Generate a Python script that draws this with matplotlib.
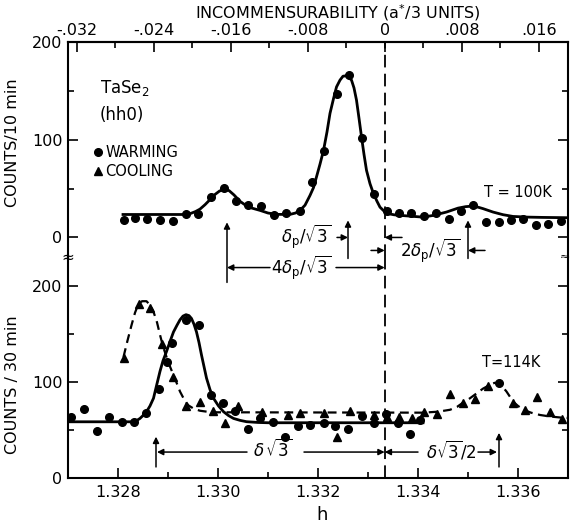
import numpy as np
import matplotlib
matplotlib.use("Agg")
import matplotlib.pyplot as plt
from matplotlib.lines import Line2D
from matplotlib.ticker import MultipleLocator, FixedLocator, FixedFormatter

plt.rcParams['font.family'] = ['DejaVu Sans']
plt.rcParams['mathtext.fontset'] = 'dejavusans'

H0 = 4.0 / 3.0  # commensurate position

# ---------------- top panel: T = 100 K (counts / 10 min) ----------------
top_h = [1.32811, 1.32834, 1.32857, 1.32884, 1.32909, 1.32936, 1.32960, 1.32985,
         1.33012, 1.33035, 1.33060, 1.33085, 1.33111, 1.33136, 1.33163, 1.33187,
         1.33211, 1.33237, 1.33261, 1.33287, 1.33312, 1.33337, 1.33361, 1.33386,
         1.33411, 1.33435, 1.33461, 1.33485, 1.33509, 1.33535, 1.33561, 1.33585,
         1.33609, 1.33635, 1.33659, 1.33685]
top_counts = [17.4, 19.8, 18.5, 17.4, 16.4, 23.6, 23.9, 41.4,
              50.6, 36.9, 33.5, 32.5, 23.3, 25.0, 27.0, 56.7,
              88.5, 147.0, 166.0, 102.0, 44.0, 27.0, 25.0, 25.0,
              21.5, 25.0, 18.5, 27.0, 32.8, 15.7, 15.7, 17.4,
              19.1, 13.0, 14.0, 17.1]

top_fit_h = [1.3281, 1.3293, 1.32945, 1.32955, 1.32964, 1.32974, 1.32984, 1.32994,
             1.33003, 1.33012, 1.33022, 1.33032, 1.33044, 1.33055, 1.33068, 1.33084,
             1.3310, 1.33117, 1.33144, 1.33155, 1.33164, 1.33174, 1.33184, 1.33191,
             1.33197, 1.33204, 1.33211, 1.33218, 1.33224, 1.33231, 1.33237, 1.33244,
             1.3325, 1.33258, 1.33267, 1.33272, 1.33277, 1.33282, 1.33287, 1.33292,
             1.33297, 1.33304, 1.33311, 1.33318, 1.33324, 1.33332, 1.33341, 1.33352,
             1.33364, 1.3341, 1.3343, 1.33457, 1.3348, 1.33495, 1.33507, 1.3352,
             1.3353, 1.3355, 1.3357, 1.3359, 1.3362, 1.3365, 1.3370]
top_fit = [23.5, 23.5, 24.5, 26.5, 29.0, 33.5, 38.7, 44.0,
           47.5, 49.0, 48.0, 43.5, 37.0, 33.0, 30.0, 27.7,
           25.0, 23.6, 23.6, 25.0, 27.7, 33.0, 43.0, 51.0,
           62.0, 75.0, 89.0, 108.0, 127.0, 142.0, 154.0, 161.0,
           165.0, 165.5, 161.0, 153.0, 140.5, 122.0, 103.0, 85.0,
           68.7, 55.0, 44.8, 37.0, 31.0, 27.0, 24.3, 23.2,
           22.6, 20.8, 22.5, 26.0, 30.0, 31.5, 32.0, 31.0,
           29.5, 26.0, 23.3, 21.5, 20.8, 20.5, 20.2]

# ---------------- bottom panel: T = 114 K (counts / 30 min) ----------------
warm_h = [1.32706, 1.32731, 1.32757, 1.32782, 1.32807, 1.32832, 1.32856, 1.32881,
          1.32897, 1.32908, 1.32936, 1.32961, 1.32985, 1.33009, 1.33033, 1.33059,
          1.33084, 1.33109, 1.33134, 1.33159, 1.33183, 1.33211, 1.33234, 1.33260,
          1.33287, 1.33312, 1.33336, 1.33359, 1.33384, 1.33404, 1.33562]
warm_counts = [64, 72, 49, 63, 58, 58, 68, 93,
               121, 140, 164, 159, 86, 78, 70, 51,
               62, 58, 43, 54, 55, 57, 54, 51,
               65, 57, 67, 57, 46, 60, 99]

cool_h = [1.32811, 1.32841, 1.32864, 1.32887, 1.32909, 1.32936, 1.32963, 1.32989,
          1.33014, 1.33039, 1.33087, 1.33139, 1.33164, 1.33212, 1.33237, 1.33264,
          1.33312, 1.33337, 1.33361, 1.33387, 1.33412, 1.33437, 1.33464, 1.33490,
          1.33514, 1.33540, 1.33590, 1.33614, 1.33637, 1.33663, 1.33687]
cool_counts = [125, 181, 177, 139, 105, 75, 79, 70,
               57, 75, 69, 66, 68, 68, 43, 70,
               66, 64, 64, 62, 69, 67, 87, 78,
               82, 96, 78, 71, 84, 69, 61]

warm_fit_h = [1.3270, 1.3283, 1.32838, 1.32844, 1.3285, 1.32857, 1.32864, 1.32871,
              1.32877, 1.32884, 1.3289, 1.32897, 1.32904, 1.32911, 1.32918, 1.32924,
              1.3293, 1.32936, 1.32942, 1.32947, 1.32952, 1.32957, 1.32962, 1.32967,
              1.32972, 1.32977, 1.32984, 1.32991, 1.33001, 1.33011, 1.33021, 1.33031,
              1.33044, 1.33057, 1.3308, 1.3310, 1.3341]
warm_fit = [58.5, 58.5, 60, 62, 65, 69, 75, 83,
            96, 111, 122, 131.6, 142, 152, 159, 164.6,
            168.5, 170, 169, 166, 160, 152, 141, 128,
            116, 104, 92, 83, 75, 69, 65, 62,
            60, 58.6, 57.8, 57.5, 57.5]

cool_fit_h = [1.32811, 1.32819, 1.32827, 1.32834, 1.3284, 1.32848, 1.32857, 1.32864,
              1.32871, 1.32878, 1.32884, 1.3289, 1.32897, 1.32904, 1.32911, 1.32918,
              1.32924, 1.32932, 1.32941, 1.32952, 1.32964, 1.32978, 1.32991, 1.3341,
              1.3344, 1.33464, 1.33478, 1.3349, 1.33504, 1.33517, 1.3353, 1.33544,
              1.33553, 1.33561, 1.33569, 1.33577, 1.33584, 1.3359, 1.336, 1.33611,
              1.33626, 1.33644, 1.33664, 1.33684, 1.3370]
cool_fit = [126, 143, 159, 172, 180, 184, 184, 180,
            173, 162, 149, 137, 126, 116, 107, 98,
            90, 82, 75.5, 72, 70, 69, 68.4, 68,
            69, 71, 74, 78.4, 83, 88, 93, 97,
            99, 99, 95, 90, 84.5, 79.5, 75, 71,
            68, 65.6, 64, 63, 62.5]

top_tick_vals = [-0.032, -0.024, -0.016, -0.008, 0.0, 0.008, 0.016]
top_tick_labels = ['-.032', '-.024', '-.016', '-.008', '0', '.008', '.016']
bot_tick_vals = [1.328, 1.330, 1.332, 1.334, 1.336]
bot_tick_labels = ['1.328', '1.330', '1.332', '1.334', '1.336']

# ---------------- figure ----------------
W, Hh = 570, 527
fig = plt.figure(figsize=(W / 100, Hh / 100), dpi=100)

def rect(l, t, r, b):
    return [l / W, 1 - b / Hh, (r - l) / W, (b - t) / Hh]

ax2 = fig.add_axes(rect(68, 257, 568, 478))
ax1 = fig.add_axes(rect(68, 42, 568, 257), sharex=ax2)
ax1.set_zorder(3)
ax1.patch.set_visible(False)
ax2.patch.set_visible(False)

XMIN, XMAX = 1.327, 1.337
ax1.set_xlim(XMIN, XMAX)
ax1.set_ylim(-20, 200)
ax2.set_ylim(0, 230)

LW_SP = 1.5
for ax in (ax1, ax2):
    for s in ax.spines.values():
        s.set_linewidth(LW_SP)
ax1.spines['bottom'].set_visible(False)
ax2.spines['top'].set_visible(False)

tick_kw = dict(direction='in', width=1.2, labelsize=11.5, colors='k')
# top panel y ticks
ax1.yaxis.set_major_locator(FixedLocator([0, 100, 200]))
ax1.yaxis.set_minor_locator(FixedLocator([50, 150]))
ax1.tick_params(axis='y', which='both', left=True, right=True, **tick_kw)
ax1.tick_params(axis='y', which='major', length=7, pad=4)
ax1.tick_params(axis='y', which='minor', length=4)
ax1.tick_params(axis='x', which='both', bottom=False, top=False, labelbottom=False)

# bottom panel
ax2.yaxis.set_major_locator(FixedLocator([0, 100, 200]))
ax2.yaxis.set_minor_locator(FixedLocator([50, 150]))
ax2.tick_params(axis='y', which='both', left=True, right=True, **tick_kw)
ax2.tick_params(axis='y', which='major', length=7, pad=4)
ax2.tick_params(axis='y', which='minor', length=4)
ax2.xaxis.set_major_locator(FixedLocator(bot_tick_vals))
ax2.xaxis.set_major_formatter(FixedFormatter(bot_tick_labels))
ax2.xaxis.set_minor_locator(MultipleLocator(0.001))
ax2.tick_params(axis='x', which='both', bottom=True, top=False, **tick_kw)
ax2.tick_params(axis='x', which='major', length=7, pad=5)
ax2.tick_params(axis='x', which='minor', length=4)

# top incommensurability axis
SC = 3 * np.sqrt(3)
sec = ax1.secondary_xaxis('top', functions=(lambda h: (h - H0) * SC,
                                             lambda d: d / SC + H0))
sec.xaxis.set_major_locator(FixedLocator(top_tick_vals))
sec.xaxis.set_major_formatter(FixedFormatter(top_tick_labels))
sec.xaxis.set_minor_locator(MultipleLocator(0.004))
sec.tick_params(axis='x', which='both', direction='in', width=1.2, labelsize=11.5)
sec.tick_params(axis='x', which='major', length=7, pad=3)
sec.tick_params(axis='x', which='minor', length=4)
sec.spines['top'].set_linewidth(LW_SP)

# data
MS = 5.5
ax1.plot(top_fit_h, top_fit, color='k', lw=2.0, solid_joinstyle='round')
ax1.plot(top_h, top_counts, 'o', color='k', ms=MS, mec='k')

ax2.plot(warm_fit_h, warm_fit, color='k', lw=2.0, solid_joinstyle='round')
ax2.plot(cool_fit_h, cool_fit, color='k', lw=1.6, ls=(0, (4, 2.5)))
ax2.plot(warm_h, warm_counts, 'o', color='k', ms=MS)
ax2.plot(cool_h, cool_counts, '^', color='k', ms=MS + 0.5)

# commensurate position dashed line
for ax in (ax1, ax2):
    ax.axvline(H0, color='k', lw=1.3, ls=(0, (7, 3.5)), zorder=1)

# ---------------- annotations ----------------
def arr(ax, x0, y0, x1, y1, lw=1.1):
    ax.annotate('', xy=(x1, y1), xytext=(x0, y0), annotation_clip=False,
                arrowprops=dict(arrowstyle='-|>', color='k', lw=lw,
                                mutation_scale=9, shrinkA=0, shrinkB=0))

fs = 12
# top panel (y in counts/10 min units, below 0 extends downward)
arr(ax1, 1.3326, -21.5, 1.3326, 17.5)         # main peak marker
arr(ax1, 1.3350, -21.5, 1.3350, 17.5)         # side peak marker
arr(ax1, 1.33018, -46.0, 1.33018, 15.5)       # 4 dp peak marker
ax1.text(1.33226, 0.5, r'$\delta_{\rm p}/\sqrt{3}$', ha='right', va='center', fontsize=fs)
arr(ax1, 1.33238, 0, 1.3326, 0)
arr(ax1, 1.33368, 0, H0, 0)
arr(ax1, 1.33306, -13.3, H0, -13.3)
ax1.text(1.33364, -13.3, r'$2\delta_{\rm p}/\sqrt{3}$', ha='left', va='center', fontsize=fs)
arr(ax1, 1.33534, -13.3, 1.3350, -13.3)
arr(ax1, 1.33104, -30.8, 1.33018, -30.8)
ax1.text(1.33166, -30.8, r'$4\delta_{\rm p}/\sqrt{3}$', ha='center', va='center', fontsize=fs)
arr(ax1, 1.33236, -30.8, H0, -30.8)
ax1.text(1.3360, 46, 'T = 100K', ha='center', va='center', fontsize=10.5)

ax1.text(1.32764, 153, r'TaSe$_2$', ha='left', va='center', fontsize=12)
ax1.text(1.32764, 125, '(hh0)', ha='left', va='center', fontsize=12)
handles = [Line2D([], [], marker='o', ls='none', color='k', ms=MS),
           Line2D([], [], marker='^', ls='none', color='k', ms=MS)]
ax1.legend(handles, ['WARMING', 'COOLING'], loc='upper left',
           bbox_to_anchor=(0.03, 0.555), frameon=False, fontsize=10.5,
           handletextpad=0.05, handlelength=1.0, labelspacing=0.25, borderpad=0)

# bottom panel
arr(ax2, 1.32876, 11.5, 1.32876, 43)
arr(ax2, 1.33562, 11.5, 1.33562, 47)
arr(ax2, 1.33058, 27, 1.32878, 27)
ax2.text(1.3311, 29, r'$\delta\,\sqrt{3}$', ha='center', va='center', fontsize=fs)
arr(ax2, 1.33172, 27, H0, 27)
arr(ax2, 1.3340, 27, H0, 27)
ax2.text(1.33466, 29, r'$\delta\sqrt{3}/2$', ha='center', va='center', fontsize=fs)
arr(ax2, 1.3352, 27, 1.33558, 27)
ax2.text(1.33586, 120, 'T=114K', ha='center', va='center', fontsize=10.5)

# axis labels
ax1.set_ylabel('COUNTS/10 min', fontsize=11.5)
ax1.yaxis.set_label_coords(-0.096, 0.53)
ax2.set_ylabel('COUNTS / 30 min', fontsize=11.5)
ax2.yaxis.set_label_coords(-0.096, 0.42)
ax2.set_xlabel('h', fontsize=13)
ax2.xaxis.set_label_coords(0.508, -0.128)
fig.text(338 / W, 1 - 13 / Hh, r'INCOMMENSURABILITY (a$^{*}$/3 UNITS)',
         ha='center', va='center', fontsize=11.5)

# axis break marks
ax1.text(0, 0, '≈', transform=ax1.transAxes, ha='center', va='center',
         fontsize=11, clip_on=False)
ax1.text(0.993, 0, '≈', transform=ax1.transAxes, ha='center', va='center',
         fontsize=8, clip_on=False)

fig.savefig('out.png', dpi=100)
